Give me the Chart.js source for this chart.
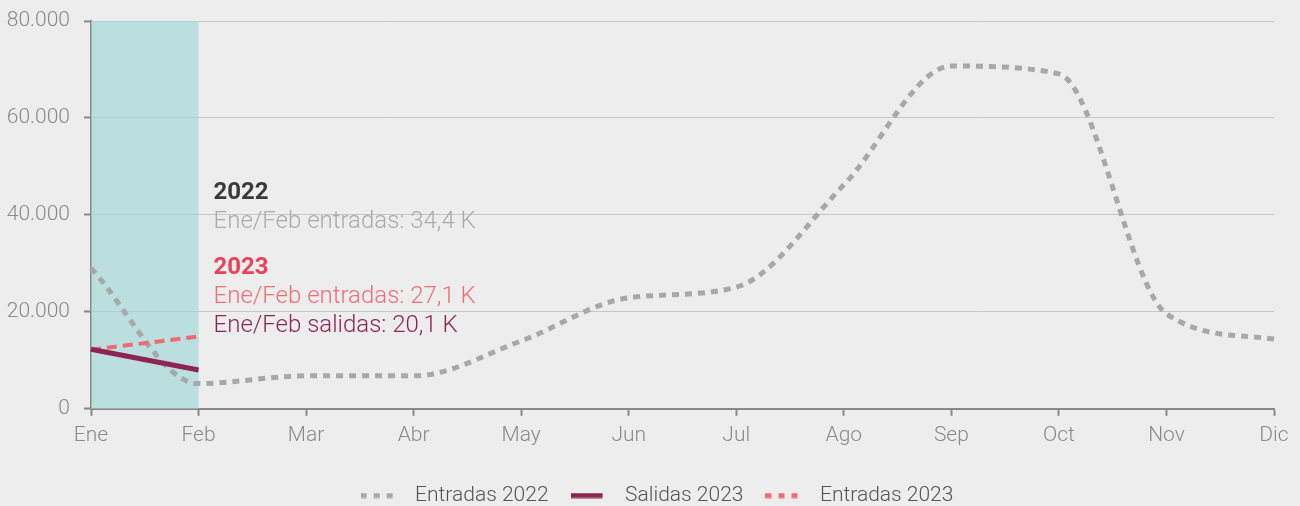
<!DOCTYPE html>
<html>
<head>
<meta charset="utf-8">
<script src="https://cdn.jsdelivr.net/npm/chart.js@4/dist/chart.umd.min.js"></script>
<style>
  html, body { margin: 0; padding: 0; background: #ecedec; }
  #wrap { width: 1300px; height: 506px; }
</style>
</head>
<body>
<div id="wrap"><canvas id="grafico"></canvas></div>
<script>
// Meses
const meses = ['Ene', 'Feb', 'Mar', 'Abr', 'May', 'Jun', 'Jul', 'Ago', 'Sep', 'Oct', 'Nov', 'Dic'];
// Series
const entradas2022 = [29000, 5200, 6800, 6800, 14000, 22900, 25100, 46200, 70700, 69100, 19600, 14400];
const salidas2023 = [12300, 8000];
const entradas2023 = [12200, 14900];
// Ticks del eje Y
const ticksY = [0, 20000, 40000, 60000, 80000];
// Notas
const notas = [
    { texto: '2022', color: '#3a3a3a', peso: 'bold' },
    { texto: 'Ene/Feb entradas: 34,4 K', color: '#ababab', peso: '300' },
    { texto: '2023', color: '#e8435a', peso: 'bold' },
    { texto: 'Ene/Feb entradas: 27,1 K', color: '#ef6f77', peso: '300' },
    { texto: 'Ene/Feb salidas: 20,1 K', color: '#8e2454', peso: '300' }
];
const saltos = [0, 29, 75, 104, 133];

const fmt = v => v.toLocaleString('de-DE');

// marcadores de leyenda (línea con o sin guiones), dejando hueco a la derecha
function marcador(color, grosor, guion) {
    const c = document.createElement('canvas');
    c.width = 44;
    c.height = 6;
    const g = c.getContext('2d');
    g.strokeStyle = color;
    g.lineWidth = grosor;
    if (guion) g.setLineDash(guion);
    g.beginPath();
    g.moveTo(0, 3);
    g.lineTo(32, 3);
    g.stroke();
    return c;
}
const marcadores = [
    marcador('#a8a8a8', 5, [6, 7]),
    marcador('#8e2454', 5, null),
    marcador('#ef6a72', 5, [6, 7])
];

// Banda Ene-Feb y textos
const bandaPlugin = {
    id: 'banda',
    beforeDatasetsDraw(chart) {
        const { ctx, chartArea, scales } = chart;
        const x0 = scales.x.getPixelForValue(0);
        const x1 = scales.x.getPixelForValue(1);
        ctx.save();
        ctx.fillStyle = 'rgba(160, 215, 215, 0.65)';
        ctx.fillRect(x0, chartArea.top, x1 - x0, chartArea.bottom - chartArea.top);
        ctx.restore();
    },
    afterDatasetsDraw(chart) {
        const { ctx, scales } = chart;
        const x = scales.x.getPixelForValue(1) + 15;
        const y0 = scales.y.getPixelForValue(44500);
        ctx.save();
        ctx.textBaseline = 'middle';
        notas.forEach((n, i) => {
            ctx.font = n.peso + ' 24px Roboto';
            ctx.fillStyle = n.color;
            ctx.fillText(n.texto, x, y0 + saltos[i]);
        });
        ctx.restore();
    }
};

const ctx = document.getElementById('grafico').getContext('2d');
const grafico = new Chart(ctx, {
    type: 'line',
    data: {
        labels: meses,
        datasets: [{
            label: 'Entradas 2022',
            data: entradas2022,
            borderColor: '#a8a8a8',
            backgroundColor: '#a8a8a8',
            borderWidth: 5,
            borderDash: [7, 6],
            cubicInterpolationMode: 'monotone',
            pointRadius: 0,
            fill: false,
            order: 3
        }, {
            label: 'Salidas 2023',
            data: salidas2023,
            borderColor: '#8e2454',
            backgroundColor: '#8e2454',
            borderWidth: 5,
            pointRadius: 0,
            fill: false,
            order: 1
        }, {
            label: 'Entradas 2023',
            data: entradas2023,
            borderColor: '#ef6a72',
            backgroundColor: '#ef6a72',
            borderWidth: 4,
            borderDash: [10, 6],
            pointRadius: 0,
            fill: false,
            order: 2
        }]
    },
    options: {
        responsive: true,
        maintainAspectRatio: false,
        animation: false,
        layout: { padding: { top: 21, right: -14, left: 0, bottom: -10 } },
        plugins: {
            tooltip: { enabled: false },
            legend: {
                position: 'bottom',
                labels: {
                    usePointStyle: true,
                    pointStyleWidth: 44,
                    boxHeight: 10,
                    padding: 22,
                    color: '#555',
                    font: { family: 'Roboto', size: 21, weight: '300' },
                    generateLabels(chart) {
                        const items = Chart.defaults.plugins.legend.labels.generateLabels(chart);
                        items.forEach(it => { it.pointStyle = marcadores[it.datasetIndex]; });
                        return items.sort((a, b) => a.datasetIndex - b.datasetIndex);
                    }
                }
            }
        },
        scales: {
            x: {
                offset: false,
                afterFit(axis) { axis.height += 8; axis.paddingRight = 26; },
                border: { color: '#888', width: 2 },
                grid: { drawOnChartArea: false, drawTicks: true, tickLength: 7, tickColor: '#888', tickWidth: 2 },
                ticks: { color: '#8a8a8a', padding: 7, font: { family: 'Roboto', size: 21, weight: '300' } }
            },
            y: {
                min: 0,
                max: 80000,
                afterFit(axis) { axis.width = 91; axis.paddingTop = 0; },
                afterBuildTicks(axis) { axis.ticks = ticksY.map(v => ({ value: v })); },
                border: { color: '#888', width: 2 },
                grid: { color: '#c6c6c6', lineWidth: 1, tickLength: 7, tickColor: '#888', tickWidth: 2 },
                ticks: {
                    color: '#8a8a8a',
                    padding: 14,
                    font: { family: 'Roboto', size: 21, weight: '300' },
                    callback: v => fmt(v)
                }
            }
        }
    },
    plugins: [bandaPlugin]
});
</script>
</body>
</html>
